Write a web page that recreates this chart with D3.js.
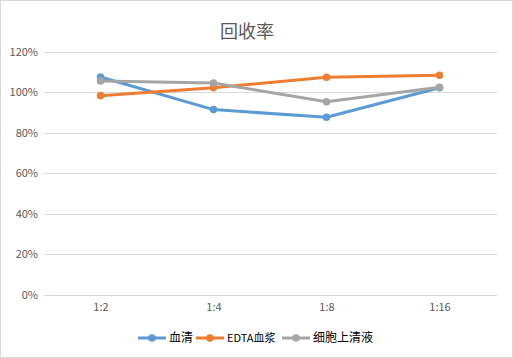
<!DOCTYPE html>
<html><head><meta charset="utf-8">
<script src="https://cdn.jsdelivr.net/npm/d3@7"></script>
<style>body{margin:0;background:#fff}</style>
</head><body>
<svg id="c" width="513" height="358"></svg>
<script>
const categories = ["1:2","1:4","1:8","1:16"];
const seriesNames = ["血清","EDTA血浆","细胞上清液"];
const serum = [107.4, 91.3, 87.5, 102.1];
const edta = [98.2, 102.1, 107.3, 108.3];
const supernatant = [105.4, 104.4, 95.2, 102.3];
const yTicks = [0,20,40,60,80,100,120];
const colors = ["#5b9bd5","#ed7d31","#a5a5a5"];
const allSeries = [serum, edta, supernatant];

const svg = d3.select("#c");
const font = "'Noto Sans CJK SC','Microsoft YaHei',sans-serif";
svg.append("rect").attr("x",0.5).attr("y",0.5).attr("width",512).attr("height",357)
  .attr("fill","#fff").attr("stroke","#d9d9d9");

const x = d3.scalePoint().domain(categories).range([44,496]).padding(0.5);
const y = d3.scaleLinear().domain([0,120]).range([294.5,51.5]);

svg.append("text").attr("x",247).attr("y",38).attr("text-anchor","middle")
  .attr("font-family",font).attr("font-size",18).attr("fill","#595959").text("回收率");

const g = svg.append("g");
g.selectAll("line.grid").data(yTicks).join("line").attr("class","grid")
  .attr("x1",44).attr("x2",497).attr("y1",d=>Math.round(y(d))+0.5).attr("y2",d=>Math.round(y(d))+0.5)
  .attr("stroke","#d9d9d9").attr("stroke-width",1);

const yAxis = d3.axisLeft(y).tickValues(yTicks).tickFormat(d=>d+"%").tickSize(0).tickPadding(0);
const ya = svg.append("g").attr("transform","translate(38,0)").call(yAxis);
ya.select(".domain").remove();
ya.selectAll("text").attr("font-family",font).attr("font-size",11).attr("fill","#595959");

const xAxis = d3.axisBottom(x).tickSize(0).tickPadding(0);
const xa = svg.append("g").attr("transform","translate(0,303)").call(xAxis);
xa.select(".domain").remove();
xa.selectAll("text").attr("font-family",font).attr("font-size",11).attr("fill","#595959");

const line = d3.line().x((d,i)=>x(categories[i])).y(d=>y(d));
allSeries.forEach((s,k)=>{
  svg.append("path").attr("d",line(s)).attr("fill","none").attr("stroke",colors[k])
    .attr("stroke-width",3).attr("stroke-linejoin","round");
  svg.selectAll(null).data(s).join("circle").attr("cx",(d,i)=>x(categories[i])).attr("cy",d=>y(d))
    .attr("r",3.8).attr("fill",colors[k]);
});

// legend
const legX = [138, 196, 282];
const lg = svg.append("g");
seriesNames.forEach((n,k)=>{
  const lx = legX[k];
  lg.append("line").attr("x1",lx).attr("x2",lx+28).attr("y1",338).attr("y2",338)
    .attr("stroke",colors[k]).attr("stroke-width",3);
  lg.append("circle").attr("cx",lx+14).attr("cy",338).attr("r",3.8).attr("fill",colors[k]);
  lg.append("text").attr("x",lx+31).attr("y",342).attr("font-family",font).attr("font-size",k==1?11:12)
    .attr("fill","#000").text(n);
});
</script>
</body></html>
